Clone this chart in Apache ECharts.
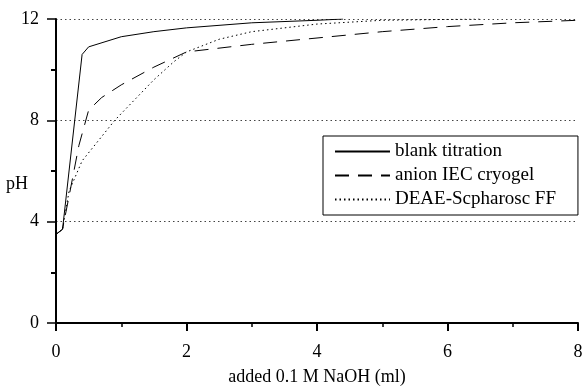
<!DOCTYPE html>
<html><head><meta charset="utf-8">
<script src="https://cdn.jsdelivr.net/npm/echarts@6/dist/echarts.min.js"></script>
<style>html,body{margin:0;padding:0;background:#fff}#c{width:584px;height:388px}</style>
</head><body><div id="c"></div>
<script>
const seriesNames = ['blank titration', 'anion IEC cryogel', 'DEAE-Scpharosc FF'];
const blankTitration = [[0,3.5],[0.1,3.7],[0.4,10.6],[0.5,10.9],[1,11.3],[1.5,11.5],[2,11.65],[3,11.85],[4,11.95],[4.4,12]];
const anionCryogel = [[0,3.5],[0.1,3.7],[0.2,5.0],[0.35,7.0],[0.5,8.4],[0.7,8.9],[1,9.4],[1.5,10.1],[2,10.7],[3,11.0],[4,11.25],[5,11.5],[6,11.7],[7,11.85],[8,11.95]];
const deaeSepharose = [[0,3.5],[0.1,3.7],[0.2,5.2],[0.4,6.4],[0.65,7.2],[0.9,8.0],[1.2,8.8],[1.5,9.6],[1.8,10.3],[2,10.7],[2.5,11.2],[3,11.5],[4,11.8],[5,11.95],[6.5,12.0]];
const xTickLabels = ['0','2','4','6','8'];
const yTickLabels = ['0','4','8','12'];
const xAxisName = 'added 0.1 M NaOH (ml)';
const yAxisName = 'pH';

const font = 'Liberation Serif';
const chart = echarts.init(document.getElementById('c'), null, {renderer:'canvas'});
const dashTypes = ['solid', [14, 9], [1.5, 3]];
const datasets = [blankTitration, anionCryogel, deaeSepharose];
chart.setOption({
  animation: false,
  backgroundColor: '#fff',
  grid: {left: 56, right: 6, top: 19, bottom: 65, containLabel: false, outerBoundsMode: 'none'},
  legend: {
    orient: 'vertical', left: 323, top: 136,
    data: seriesNames,
    itemWidth: 55, itemHeight: 14, itemGap: 5,
    padding: [6, 22, 6, 11],
    borderColor: '#000', borderWidth: 1,
    itemStyle: {opacity: 0},
    textStyle: {fontFamily: font, fontSize: 19, color: '#000'},
    selectedMode: false
  },
  xAxis: {
    type: 'value', min: 0, max: 8, interval: 2,
    name: xAxisName, nameLocation: 'middle', nameGap: 45, nameMoveOverlap: false,
    nameTextStyle: {fontFamily: font, fontSize: 18, color: '#000'},
    axisLine: {lineStyle: {color: '#000', width: 2}},
    axisTick: {length: 8, lineStyle: {color: '#000', width: 2}},
    minorTick: {show: true, splitNumber: 2, length: 4, lineStyle: {color: '#000', width: 1.5}},
    axisLabel: {margin: 20, fontFamily: font, fontSize: 18, color: '#000',
      formatter: v => xTickLabels[Math.round(v / 2)] ?? ''},
    splitLine: {show: false}
  },
  yAxis: {
    type: 'value', min: 0, max: 12, interval: 4,
    name: yAxisName, nameLocation: 'middle', nameRotate: 0, nameGap: 28, nameMoveOverlap: false,
    nameTextStyle: {fontFamily: font, fontSize: 18, color: '#000', align: 'right', verticalAlign: 'top', lineHeight: 27},
    axisLine: {onZero: false, lineStyle: {color: '#000', width: 2}},
    axisTick: {length: 9, lineStyle: {color: '#000', width: 1.5}},
    minorTick: {show: true, splitNumber: 2, length: 5, lineStyle: {color: '#000', width: 2}},
    axisLabel: {margin: 17, fontFamily: font, fontSize: 18, color: '#000',
      formatter: v => yTickLabels[Math.round(v / 4)] ?? ''},
    splitLine: {show: true, lineStyle: {color: '#444', width: 1, type: [1.5, 3]}}
  },
  series: seriesNames.map((n, i) => ({
    name: n, type: 'line', data: datasets[i], symbol: 'none', smooth: false,
    lineStyle: {color: '#000', width: 1, type: dashTypes[i]},
    itemStyle: {color: '#000'}
  }))
});
</script></body></html>
